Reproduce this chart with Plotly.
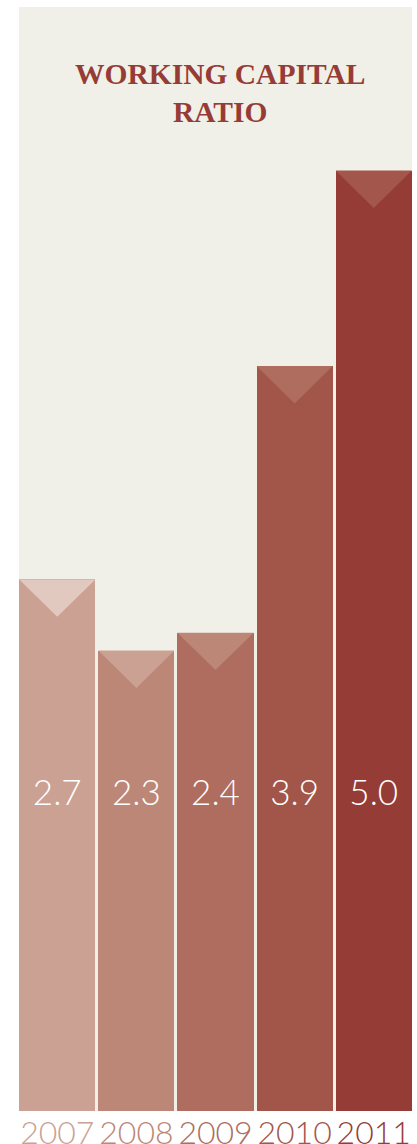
import plotly.graph_objects as go

# Working capital ratio by fiscal year
years = ["2007", "2008", "2009", "2010", "2011"]
ratios = [2.7, 2.3, 2.4, 3.9, 5.0]

# Bar palette, light to dark, and the lighter tone used for each bar's notch
bar_colors = ["#CBA194", "#BD8777", "#AE6D5E", "#A2564A", "#963C36"]
notch_colors = ["#E2C9C0", "#CBA194", "#BD8777", "#AE6D5E", "#A3574C"]

TITLE_COLOR = "#963C36"
PANEL = "#F1F0E8"
THIN_FONT = "Lato, Roboto, 'Open Sans', sans-serif"

Y_FLOOR = -0.29      # axis floor where the bars start
Y_TOP = 5.92
BAR_W = 0.962
NOTCH_DEPTH = 0.21   # depth of the V notch, in ratio units
LABEL_LEVEL = 1.48   # height at which the value labels sit

xs = list(range(len(years)))

fig = go.Figure()

fig.add_trace(go.Bar(
    x=xs,
    y=[v - Y_FLOOR for v in ratios],
    base=Y_FLOOR,
    width=BAR_W,
    marker=dict(color=bar_colors, line=dict(width=0)),
    hoverinfo="skip",
    showlegend=False,
))

# V-shaped notch at the top of every bar
for i, v in enumerate(ratios):
    half = BAR_W / 2
    fig.add_trace(go.Scatter(
        x=[i - half, i + half, i, i - half],
        y=[v, v, v - NOTCH_DEPTH, v],
        mode="lines",
        fill="toself",
        fillcolor=notch_colors[i],
        line=dict(width=0, color=notch_colors[i]),
        hoverinfo="skip",
        showlegend=False,
    ))

# Value labels inside the bars
fig.add_trace(go.Scatter(
    x=xs,
    y=[LABEL_LEVEL] * len(ratios),
    mode="text",
    text=[f"{v:.1f}" for v in ratios],
    textposition="middle center",
    textfont=dict(family=THIN_FONT, size=35, color="white", weight=300),
    hoverinfo="skip",
    showlegend=False,
))

fig.add_annotation(
    text="<b>WORKING CAPITAL</b><br><b>RATIO</b>",
    xref="paper", yref="paper",
    x=0.511, y=0.956,
    xanchor="center", yanchor="top",
    showarrow=False,
    font=dict(family="'Liberation Serif', 'Times New Roman', serif", size=29.5, color=TITLE_COLOR),
)

fig.update_layout(
    width=417, height=1144,
    margin=dict(l=19, r=5, t=7, b=33),
    paper_bgcolor="white",
    plot_bgcolor=PANEL,
    bargap=0,
    xaxis=dict(
        range=[-0.4835, len(years) - 1 + 0.4835],
        tickmode="array",
        tickvals=xs,
        ticktext=[f'<span style="color:{c}">{y}</span>' for y, c in zip(years, bar_colors)],
        tickfont=dict(family=THIN_FONT, size=32, weight=300),
        tickangle=0,
        ticks="",
        ticklabelstandoff=0,
        automargin=False,
        showgrid=False,
        zeroline=False,
        showline=False,
        fixedrange=True,
    ),
    yaxis=dict(
        range=[Y_FLOOR, Y_TOP],
        visible=False,
        automargin=False,
        showgrid=False,
        zeroline=False,
        fixedrange=True,
    ),
)

fig.write_html("out.html", config={"displayModeBar": False})
